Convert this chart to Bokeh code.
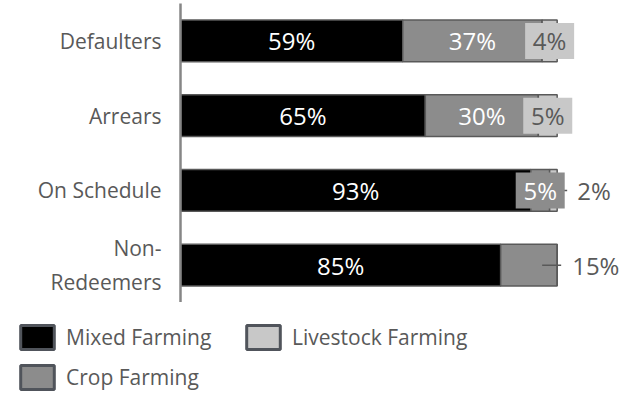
from bokeh.plotting import figure
from bokeh.layouts import column
from bokeh.models import Range1d, FactorRange, ColumnDataSource, Legend, LegendItem
from bokeh.core.properties import value
from bokeh.embed import file_html
from bokeh.resources import INLINE

# ---- data ----
categories = ["Defaulters", "Arrears", "On Schedule", "Non-Redeemers"]
tick_labels = ["Defaulters", "Arrears", "On Schedule", "Non-\nRedeemers"]
series_names = ["Mixed Farming", "Crop Farming", "Livestock Farming"]
mixed = [59, 65, 93, 85]
crop = [37, 30, 5, 15]
livestock = [4, 5, 2, 0]

# ---- styles ----
FONT = "Open Sans"
GREY_TXT = "#595959"
EDGE = "#595959"
LEG_EDGE = "#50545b"
colors = ["#000000", "#8c8c8c", "#c8c8c8"]
label_style = [
    ["in", "in", "box"],
    ["in", "in", "box"],
    ["in", "box", "out"],
    ["in", "out", None],
]
out_offset_px = {(2, 2): 20, (3, 1): 15}
leader_end_px = {(2, 2): 10, (3, 1): 4}
LEADER_START_PX = -15

X_MAX = 120
FRAME_W = 642 - 180 - 10
DATA_PER_PX = X_MAX / FRAME_W

p = figure(width=642, height=302,
           y_range=FactorRange(factors=tick_labels[::-1], range_padding=0),
           x_range=Range1d(0, X_MAX),
           output_backend="svg", toolbar_location=None,
           min_border_left=180, min_border_right=10,
           min_border_top=3, min_border_bottom=0)
p.xaxis.visible = False
p.grid.visible = False
p.outline_line_color = None

ax = p.yaxis[0]
ax.axis_line_color = "#868686"
ax.axis_line_width = 2.5
ax.major_tick_line_color = None
ax.minor_tick_line_color = None
ax.major_label_text_font = FONT
ax.major_label_text_font_size = "21px"
ax.major_label_text_color = GREY_TXT
ax.major_label_standoff = 13

src = ColumnDataSource(dict(cat=tick_labels, mixed=mixed, crop=crop, livestock=livestock))
rs = p.hbar_stack(["mixed", "crop", "livestock"], y="cat", height=0.56,
                  fill_color=colors, line_color=EDGE, line_width=1.5,
                  source=src)

values = [mixed, crop, livestock]
lab = dict(x=[], y=[], text=[], color=[], align=[], xoff=[])
box = dict(x=[], y=[], color=[])
lead = dict(x0=[], x1=[], y=[])
for i, cat in enumerate(tick_labels):
    total = sum(v[i] for v in values)
    left = 0
    for j in range(3):
        v = values[j][i]
        center = left + v / 2
        left += v
        style = label_style[i][j]
        if style is None:
            continue
        text = f"{v}%"
        if style == "in":
            lab["x"].append(center); lab["y"].append(cat); lab["text"].append(text)
            lab["color"].append("white"); lab["align"].append("center"); lab["xoff"].append(0)
        elif style == "box":
            box["x"].append(center); box["y"].append(cat); box["color"].append(colors[j])
            lab["x"].append(center); lab["y"].append(cat); lab["text"].append(text)
            lab["color"].append("white" if j == 1 else GREY_TXT)
            lab["align"].append("center"); lab["xoff"].append(0)
        else:
            lab["x"].append(total); lab["y"].append(cat); lab["text"].append(text)
            lab["color"].append(GREY_TXT); lab["align"].append("left")
            lab["xoff"].append(out_offset_px[(i, j)])
            lead["x0"].append(total + LEADER_START_PX * DATA_PER_PX)
            lead["x1"].append(total + leader_end_px[(i, j)] * DATA_PER_PX)
            lead["y"].append(cat)

p.segment(x0="x0", x1="x1", y0="y", y1="y", source=ColumnDataSource(lead),
          line_color=EDGE, line_width=1.5)
p.rect(x="x", y="y", width=49, height=36, width_units="screen", height_units="screen",
       fill_color="color", line_color=None, source=ColumnDataSource(box))
p.text(x="x", y="y", text="text", text_color="color", text_align="align",
       x_offset="xoff", text_baseline="middle", text_font=value(FONT),
       text_font_size="24px", source=ColumnDataSource(lab))

# ---- legend panel (separate strip below the chart) ----
p2 = figure(width=642, height=91, x_range=Range1d(0, 1), y_range=Range1d(0, 1),
            output_backend="svg", toolbar_location=None,
            x_axis_location=None, y_axis_location=None,
            min_border=0)
p2.frame_align = False
p2.grid.visible = False
p2.outline_line_color = None
# legend swatches need a renderer with data; its single bar sits outside the view
swatch = ColumnDataSource(dict(y=[-1], left=[0], right=[0]))
leg_rs = [p2.hbar(y="y", left="left", right="right", height=0.5, fill_color=c,
                  line_color=LEG_EDGE, line_width=3, source=swatch) for c in colors]

legend = Legend(items=[LegendItem(label=series_names[0], renderers=[leg_rs[0]]),
                       LegendItem(label=series_names[2], renderers=[leg_rs[2]]),
                       LegendItem(label=series_names[1], renderers=[leg_rs[1]])],
                orientation="horizontal", ncols=2, location=(16, 1),
                glyph_width=42, glyph_height=30, label_standoff=8, spacing=10,
                label_width=166, padding=0, margin=0,
                border_line_alpha=0, background_fill_alpha=0,
                label_text_font=FONT, label_text_font_size="21px",
                label_text_color=GREY_TXT)
p2.add_layout(legend)

layout = column(p, p2, spacing=0)
open("out.html", "w").write(file_html(layout, INLINE))
